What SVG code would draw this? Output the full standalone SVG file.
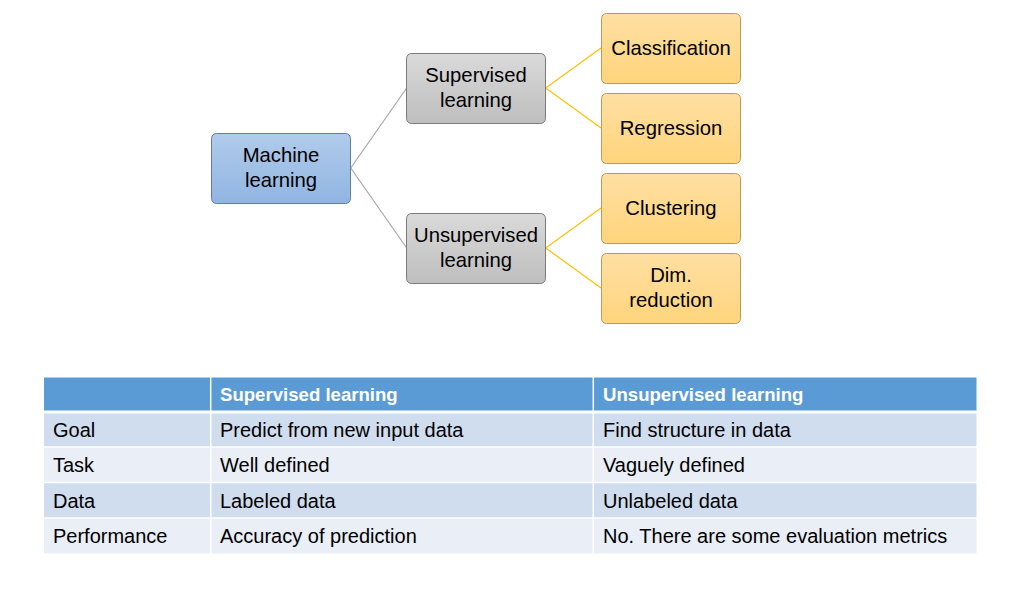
<svg xmlns="http://www.w3.org/2000/svg" width="1021" height="592" viewBox="0 0 1021 592">
  <defs>
    <linearGradient id="gBlue" x1="0" y1="0" x2="0" y2="1">
      <stop offset="0" stop-color="#B1CBEA"/>
      <stop offset="1" stop-color="#90B5E2"/>
    </linearGradient>
    <linearGradient id="gGrey" x1="0" y1="0" x2="0" y2="1">
      <stop offset="0" stop-color="#DADADA"/>
      <stop offset="1" stop-color="#BEBEBE"/>
    </linearGradient>
    <linearGradient id="gGold" x1="0" y1="0" x2="0" y2="1">
      <stop offset="0" stop-color="#FFDFA2"/>
      <stop offset="1" stop-color="#FFD57C"/>
    </linearGradient>
  </defs>
  <style>
    .box { stroke-width: 1; }
    .blue { fill: url(#gBlue); stroke: #5F7FA8; }
    .grey { fill: url(#gGrey); stroke: #7A7A7A; }
    .gold { fill: url(#gGold); stroke: #B89A5C; }
    .lbl { font-family: "Liberation Sans", Arial, sans-serif; font-size: 20.3px; fill: #000; text-anchor: middle; }
    .cell { font-family: "Liberation Sans", Arial, sans-serif; font-size: 20px; fill: #000; }
    .head { font-family: "Liberation Sans", Arial, sans-serif; font-size: 18.6px; font-weight: bold; fill: #fff; }
    .edge-grey { stroke: #A6A6A6; stroke-width: 1.2; fill: none; }
    .edge-gold { stroke: #FFC000; stroke-width: 1.2; fill: none; }
  </style>

  <rect width="1021" height="592" fill="#fff"/>

  <!-- connectors -->
  <g id="connectors">
    <path class="edge-grey" d="M350.7,168 L406.7,88"/>
    <path class="edge-grey" d="M350.7,168 L406.7,248"/>
    <path class="edge-gold" d="M545.7,88 L601,48"/>
    <path class="edge-gold" d="M545.7,88 L601,128"/>
    <path class="edge-gold" d="M545.7,248 L601,208"/>
    <path class="edge-gold" d="M545.7,248 L601,288"/>
  </g>

  <g id="node-ml">
    <rect class="box blue" x="211.5" y="133.5" width="139" height="70" rx="5"/>
    <text class="lbl" x="281" y="162">Machine</text>
    <text class="lbl" x="281" y="187">learning</text>
  </g>
  <g id="node-supervised">
    <rect class="box grey" x="406.5" y="53.5" width="139" height="70" rx="5"/>
    <text class="lbl" x="476" y="82">Supervised</text>
    <text class="lbl" x="476" y="107">learning</text>
  </g>
  <g id="node-unsupervised">
    <rect class="box grey" x="406.5" y="213.5" width="139" height="70" rx="5"/>
    <text class="lbl" x="476" y="242">Unsupervised</text>
    <text class="lbl" x="476" y="267">learning</text>
  </g>
  <g id="node-classification">
    <rect class="box gold" x="601.5" y="13.5" width="139" height="70" rx="5"/>
    <text class="lbl" x="671" y="55">Classification</text>
  </g>
  <g id="node-regression">
    <rect class="box gold" x="601.5" y="93.5" width="139" height="70" rx="5"/>
    <text class="lbl" x="671" y="135">Regression</text>
  </g>
  <g id="node-clustering">
    <rect class="box gold" x="601.5" y="173.5" width="139" height="70" rx="5"/>
    <text class="lbl" x="671" y="215">Clustering</text>
  </g>
  <g id="node-dimred">
    <rect class="box gold" x="601.5" y="253.5" width="139" height="70" rx="5"/>
    <text class="lbl" x="671" y="282">Dim.</text>
    <text class="lbl" x="671" y="307">reduction</text>
  </g>

  <!-- comparison table -->
  <g id="table">
    <rect x="44" y="377.5" width="932.5" height="34" fill="#5B9BD5"/>
    <rect x="44" y="411.5" width="932.5" height="35.5" fill="#D0DDEF"/>
    <rect x="44" y="447" width="932.5" height="35.5" fill="#E9EEF7"/>
    <rect x="44" y="482.5" width="932.5" height="35.5" fill="#D0DDEF"/>
    <rect x="44" y="518" width="932.5" height="35.5" fill="#E9EEF7"/>
    <g stroke="#fff" stroke-width="1.5">
      <line x1="210.7" y1="377" x2="210.7" y2="554"/>
      <line x1="593.3" y1="377" x2="593.3" y2="554"/>
      <line x1="44" y1="447" x2="977" y2="447"/>
      <line x1="44" y1="482.5" x2="977" y2="482.5"/>
      <line x1="44" y1="518" x2="977" y2="518"/>
    </g>
    <line x1="44" y1="412" x2="977" y2="412" stroke="#fff" stroke-width="3"/>

    <text class="head" x="220" y="401">Supervised learning</text>
    <text class="head" x="603" y="401">Unsupervised learning</text>

    <text class="cell" x="53" y="437">Goal</text>
    <text class="cell" x="220" y="437">Predict from new input data</text>
    <text class="cell" x="603" y="437">Find structure in data</text>

    <text class="cell" x="53" y="472">Task</text>
    <text class="cell" x="220" y="472">Well defined</text>
    <text class="cell" x="603" y="472">Vaguely defined</text>

    <text class="cell" x="53" y="508">Data</text>
    <text class="cell" x="220" y="508">Labeled data</text>
    <text class="cell" x="603" y="508">Unlabeled data</text>

    <text class="cell" x="53" y="543">Performance</text>
    <text class="cell" x="220" y="543">Accuracy of prediction</text>
    <text class="cell" x="603" y="543">No. There are some evaluation metrics</text>
  </g>
</svg>
